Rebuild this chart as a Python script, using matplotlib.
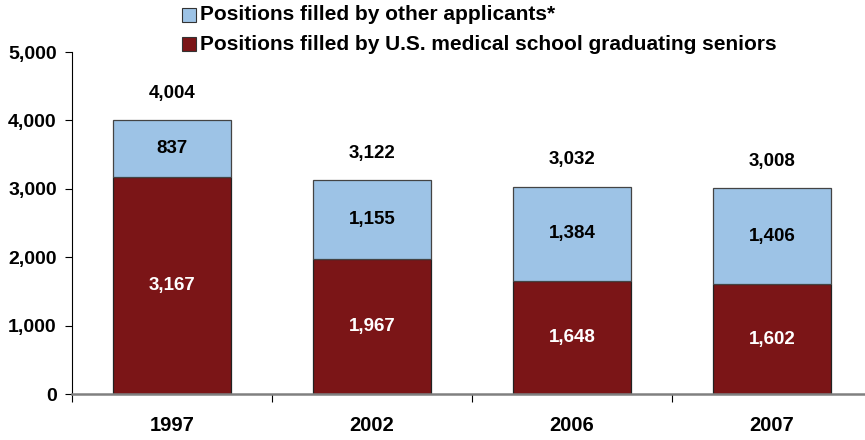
import matplotlib
matplotlib.use("Agg")
import matplotlib.pyplot as plt
from matplotlib.patches import Rectangle

years = ["1997", "2002", "2006", "2007"]
seniors = [3167, 1967, 1648, 1602]
others = [837, 1155, 1384, 1406]
totals = [4004, 3122, 3032, 3008]
yticks = [0, 1000, 2000, 3000, 4000, 5000]
legend_labels = ["Positions filled by other applicants*",
                 "Positions filled by U.S. medical school graduating seniors"]

RED = "#7B1517"
BLUE = "#9DC3E6"
FONT = "Liberation Sans"

W, H = 865, 440
fig = plt.figure(figsize=(W / 100, H / 100), dpi=100)
ax = fig.add_axes([72 / W, 46 / H, 800 / W, 342 / H])

x = range(len(years))
bw = 0.59
ax.bar(x, seniors, width=bw, color=RED, edgecolor="#222222", linewidth=0.9, zorder=2)
ax.bar(x, others, width=bw, bottom=seniors, color=BLUE, edgecolor="#444444", linewidth=0.9, zorder=2)

for i in x:
    ax.text(i, seniors[i] / 2, f"{seniors[i]:,}", ha="center", va="center",
            color="white", fontsize=13.5, fontweight="bold", family=FONT)
    ax.text(i, seniors[i] + others[i] / 2, f"{others[i]:,}", ha="center", va="center",
            color="black", fontsize=13.5, fontweight="bold", family=FONT)
    ax.text(i, totals[i] + 390, f"{totals[i]:,}", ha="center", va="center",
            color="black", fontsize=13.5, fontweight="bold", family=FONT)

ax.set_xlim(-0.5, len(years) - 0.5)
ax.set_ylim(0, 5000)
ax.set_yticks(yticks)
ax.set_yticklabels([f"{v:,}" for v in yticks], fontsize=14, fontweight="bold", family=FONT)
ax.tick_params(axis="y", direction="out", length=5, width=0.8, pad=6)

# category separators on the x axis
ax.set_xticks([i - 0.5 for i in x] + [len(years) - 0.5])
ax.set_xticklabels([])
ax.tick_params(axis="x", direction="out", length=6, width=0.8)
for i in x:
    ax.text(i, -0.092, years[i], transform=ax.get_xaxis_transform(), ha="center", va="center",
            fontsize=14.5, fontweight="bold", family=FONT)

for s in ("top", "right"):
    ax.spines[s].set_visible(False)
ax.spines["left"].set_color("black")
ax.spines["left"].set_linewidth(0.8)
ax.spines["bottom"].set_color("#808080")
ax.spines["bottom"].set_linewidth(1.8)

# legend drawn in figure pixels
legend_colors = [BLUE, RED]
for k, (lab, col) in enumerate(zip(legend_labels, legend_colors)):
    yc = 15 + 29.5 * k
    fig.patches.append(Rectangle(((182) / W, (H - yc - 7) / H), 14 / W, 14 / H,
                                 transform=fig.transFigure, facecolor=col,
                                 edgecolor="#333333", linewidth=0.8))
    fig.text(200 / W, (H - yc) / H, lab, ha="left", va="center",
             fontsize=15, fontweight="bold", family=FONT)

fig.savefig("out.png", dpi=100)
